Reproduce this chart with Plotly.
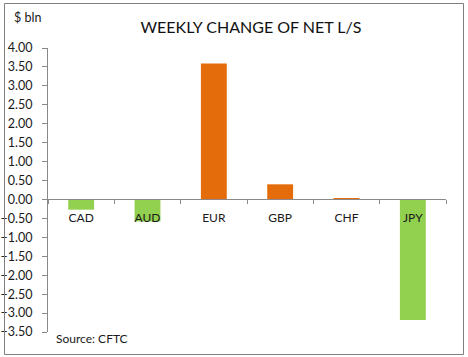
import plotly.graph_objects as go

categories = ["CAD", "AUD", "EUR", "GBP", "CHF", "JPY"]
values = [-0.27, -0.58, 3.59, 0.40, 0.03, -3.18]
y_ticks = [4.0, 3.5, 3.0, 2.5, 2.0, 1.5, 1.0, 0.5, 0.0, -0.5, -1.0, -1.5, -2.0, -2.5, -3.0, -3.5]

ORANGE = "#E46C0A"
GREEN = "#92D050"
colors = [ORANGE if v >= 0 else GREEN for v in values]

FONT = "Lato"
W, H = 468, 357
L, R, T, B = 48, 22, 48, 25
pw, ph = W - L - R, H - T - B

fig = go.Figure()
fig.add_trace(go.Bar(x=categories, y=values, marker=dict(color=colors, line=dict(width=0)),
                     width=0.39, showlegend=False))

ymin, ymax = -3.5, 4.0
zero_pos = (0 - ymin) / (ymax - ymin)

def px_x(p):
    return (p - L) / pw

def px_y(p):
    return (H - B - p) / ph

fig.update_layout(
    width=W, height=H,
    margin=dict(l=L, r=R, t=T, b=B, autoexpand=False),
    paper_bgcolor="white", plot_bgcolor="white",
    font=dict(family=FONT, size=13, color="#1a1a1a"),
    title=dict(text="WEEKLY CHANGE OF NET L/S", x=251 / W, xanchor="center",
               y=1 - 27 / H, yanchor="middle",
               font=dict(family=FONT, size=16, color="#111111")),
    xaxis=dict(anchor="free", position=zero_pos, showline=True, linecolor="#8a8a8a",
               linewidth=1, ticks="outside", tickson="boundaries", ticklen=4,
               tickcolor="#8a8a8a", showgrid=False, zeroline=False, automargin=False,
               ticklabelstandoff=7,
               tickfont=dict(family=FONT, size=12, color="#1a1a1a")),
    yaxis=dict(range=[ymin, ymax], tickvals=y_ticks, tickformat=".2f",
               showline=True, linecolor="#8a8a8a", linewidth=1, ticks="outside",
               ticklen=5, tickcolor="#8a8a8a", showgrid=False, zeroline=False,
               automargin=False, ticklabelstandoff=7,
               tickfont=dict(family=FONT, size=12.5, color="#1a1a1a")),
    shapes=[dict(type="rect", xref="paper", yref="paper",
                 x0=px_x(4.5), x1=px_x(463.5), y0=px_y(354.5), y1=px_y(3.5),
                 line=dict(color="#7f7f7f", width=1))],
    annotations=[
        dict(text="$ bln", xref="paper", yref="paper", x=px_x(12), y=px_y(17),
             xanchor="left", yanchor="middle", showarrow=False,
             font=dict(family=FONT, size=12.5, color="#1a1a1a")),
        dict(text="Source: CFTC", xref="paper", yref="paper", x=px_x(54), y=px_y(338),
             xanchor="left", yanchor="middle", showarrow=False,
             font=dict(family=FONT, size=12, color="#1a1a1a")),
    ],
)

fig.write_html("out.html", config={"displayModeBar": False},
               post_script="document.body.style.margin='0';document.body.style.overflow='hidden';")
